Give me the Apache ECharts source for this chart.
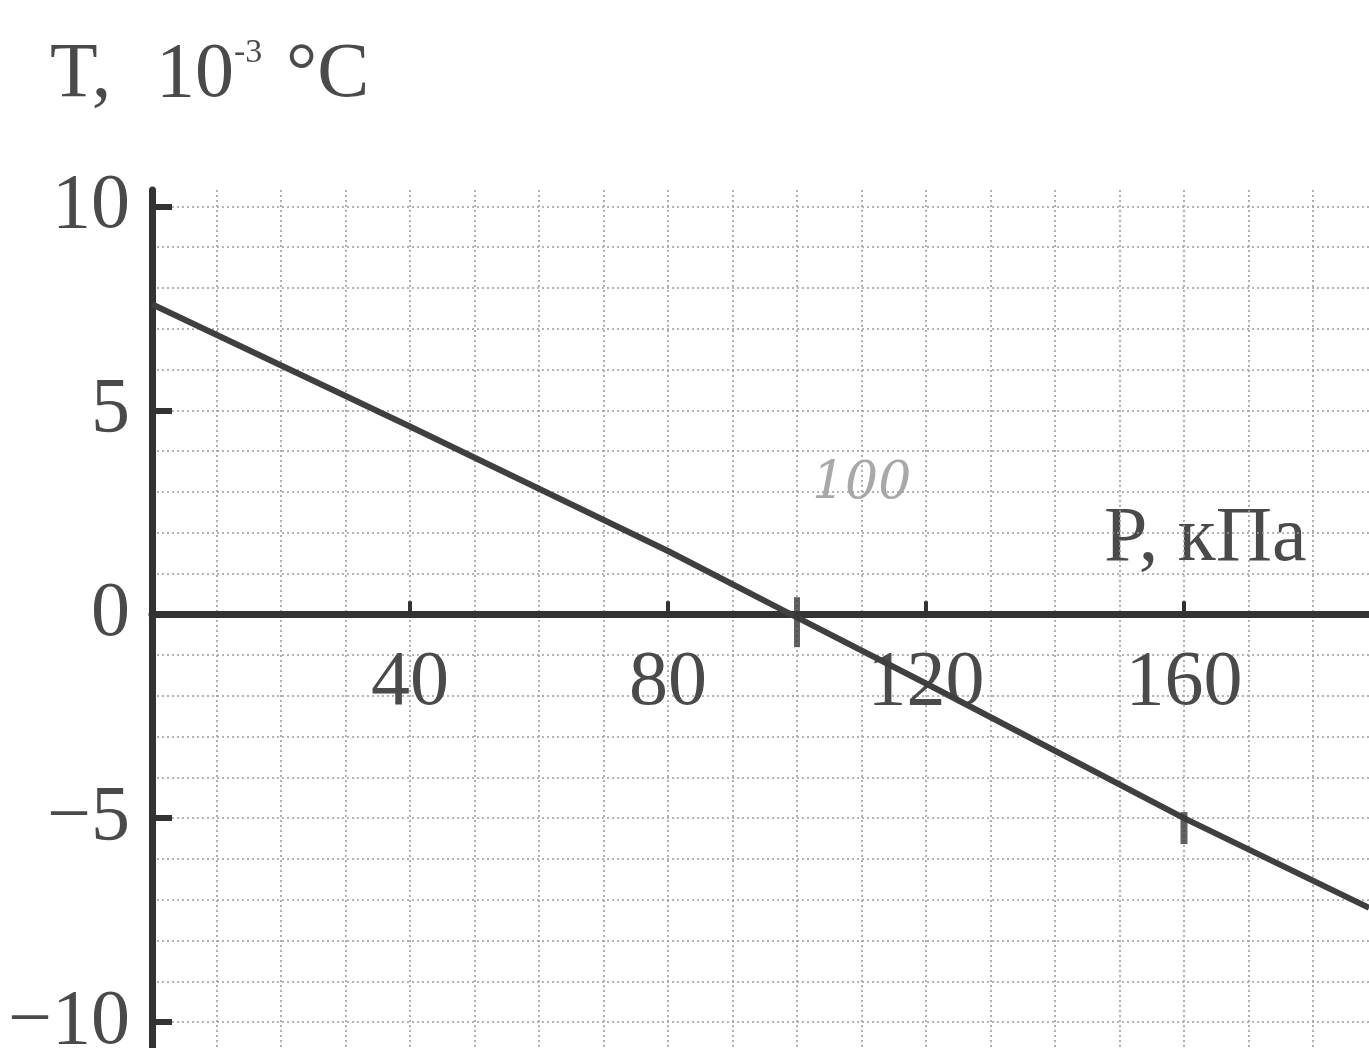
<!DOCTYPE html>
<html>
<head>
<meta charset="utf-8">
<script src="https://cdn.jsdelivr.net/npm/echarts@6/dist/echarts.min.js"></script>
<style>
  html, body { margin: 0; padding: 0; background: #ffffff; }
  #chart { width: 1369px; height: 1048px; }
</style>
</head>
<body>
<div id="chart"></div>
<script>
// Pressure P (kPa) and temperature change T (10^-3 °C) along the drawn line
const pressure = [0, 40, 80, 99, 120, 160, 188.7];
const temperature = [7.6, 4.6, 1.55, 0, -1.7, -5.0, -7.2];

// Tick labels on both axes
const xTickValues = [40, 80, 120, 160];
const yTickValues = [-10, -5, 5, 10];
const yLabelValues = [-10, -5, 0, 5, 10];

// Pencil marks on the line / axis
const markP = [100, 160];
const markT = [0, -5];

// T range of the plot and its pixel frame
const tMin = -15, tMax = 10.4;
const frameTop = 190, frameHeight = 1036, frameLeft = 152, frameWidth = 1290;
const pxPerT = frameHeight / (tMax - tMin);
const zeroRow = frameTop + tMax * pxPerT;

const serif = 'Liberation Serif';
const inkDark = '#333333';
const inkText = '#4a4a4a';
const gridDots = '#9c9c9c';

const chart = echarts.init(document.getElementById('chart'));

const lineData = pressure.map((p, i) => [p, temperature[i]]);
const markData = markP.map((p, i) => ({
  value: [p, markT[i]],
  symbolSize: i === 0 ? [6, 50] : [7, 32],
  symbolOffset: [0, i === 0 ? 8 : 10]
}));

const dotted = { color: gridDots, width: 1.6, type: [2, 3] };

chart.setOption({
  backgroundColor: '#ffffff',
  animation: false,
  grid: [
    // main plotting area (y axis, vertical rulings, line)
    { left: frameLeft, top: frameTop, width: frameWidth, height: frameHeight,
      containLabel: false, outerBoundsMode: 'none' },
    // horizontal rulings, one per unit of T (starting at T = 10)
    { left: frameLeft, top: zeroRow - 10 * pxPerT, width: frameWidth, height: 25 * pxPerT,
      containLabel: false, outerBoundsMode: 'none' },
    // upper half: its bottom edge carries the P axis at T = 0
    { left: frameLeft, top: frameTop, width: frameWidth, height: zeroRow - frameTop,
      containLabel: false, outerBoundsMode: 'none' }
  ],
  xAxis: [
    {
      gridIndex: 0,
      type: 'value',
      min: 0,
      max: 200,
      interval: 40,
      axisLine: { show: false },
      axisTick: { show: false },
      axisLabel: { show: false },
      splitLine: { show: true, lineStyle: dotted },
      minorTick: { show: false, splitNumber: 4 },
      minorSplitLine: { show: true, lineStyle: dotted }
    },
    {
      gridIndex: 1,
      type: 'value',
      min: 0,
      max: 200,
      show: false
    },
    {
      gridIndex: 2,
      type: 'value',
      position: 'bottom',
      min: 0,
      max: 200,
      interval: 40,
      axisLine: { show: true, onZero: false, lineStyle: { color: inkDark, width: 7 } },
      axisTick: { show: true, inside: true, length: 13, customValues: xTickValues,
                  lineStyle: { color: inkDark, width: 4 } },
      axisLabel: { show: true, customValues: xTickValues, margin: 30,
                   fontFamily: serif, fontSize: 78, color: inkText },
      splitLine: { show: false },
      z: 5
    }
  ],
  yAxis: [
    {
      gridIndex: 0,
      type: 'value',
      min: tMin,
      max: tMax,
      interval: 5,
      axisLine: { show: true, onZero: false, lineStyle: { color: inkDark, width: 7 } },
      axisTick: { show: true, inside: true, length: 20, customValues: yTickValues,
                  lineStyle: { color: inkDark, width: 6 } },
      axisLabel: { show: true, customValues: yLabelValues, margin: 22,
                   fontFamily: serif, fontSize: 78, color: inkText,
                   formatter: v => (v < 0 ? '\u2212' + Math.abs(v) : String(v)) },
      splitLine: { show: false },
      z: 5
    },
    {
      gridIndex: 1,
      type: 'value',
      min: -15,
      max: 10,
      interval: 1,
      axisLine: { show: false },
      axisTick: { show: false },
      axisLabel: { show: false },
      splitLine: { show: true, lineStyle: dotted }
    },
    {
      gridIndex: 2,
      type: 'value',
      min: 0,
      max: tMax,
      show: false
    }
  ],
  series: [
    {
      type: 'line',
      xAxisIndex: 0,
      yAxisIndex: 0,
      data: lineData,
      showSymbol: false,
      symbol: 'none',
      lineStyle: { color: '#3f3f3f', width: 6 },
      z: 10
    },
    {
      type: 'scatter',
      xAxisIndex: 0,
      yAxisIndex: 0,
      data: markData,
      symbol: 'rect',
      itemStyle: { color: '#3a3a3a' },
      z: 11
    }
  ],
  graphic: [
    {
      type: 'text',
      left: 50, top: 37,
      style: { text: 'T,', font: '78px "Liberation Serif"', fill: inkText }
    },
    {
      type: 'text',
      left: 156, top: 37,
      style: { text: '10', font: '78px "Liberation Serif"', fill: inkText }
    },
    {
      type: 'text',
      left: 234, top: 36,
      style: { text: '-3', font: '34px "Liberation Serif"', fill: inkText }
    },
    {
      type: 'text',
      left: 286, top: 37,
      style: { text: '°C', font: '78px "Liberation Serif"', fill: inkText }
    },
    {
      type: 'text',
      left: 1104, top: 501,
      style: { text: 'P, кПа', font: '78px "Liberation Serif"', fill: inkText }
    },
    {
      type: 'text',
      left: 812, top: 458,
      style: { text: '100', font: 'italic 300 52px "DejaVu Serif"', fill: '#a8a8a8' }
    }
  ]
});
</script>
</body>
</html>
